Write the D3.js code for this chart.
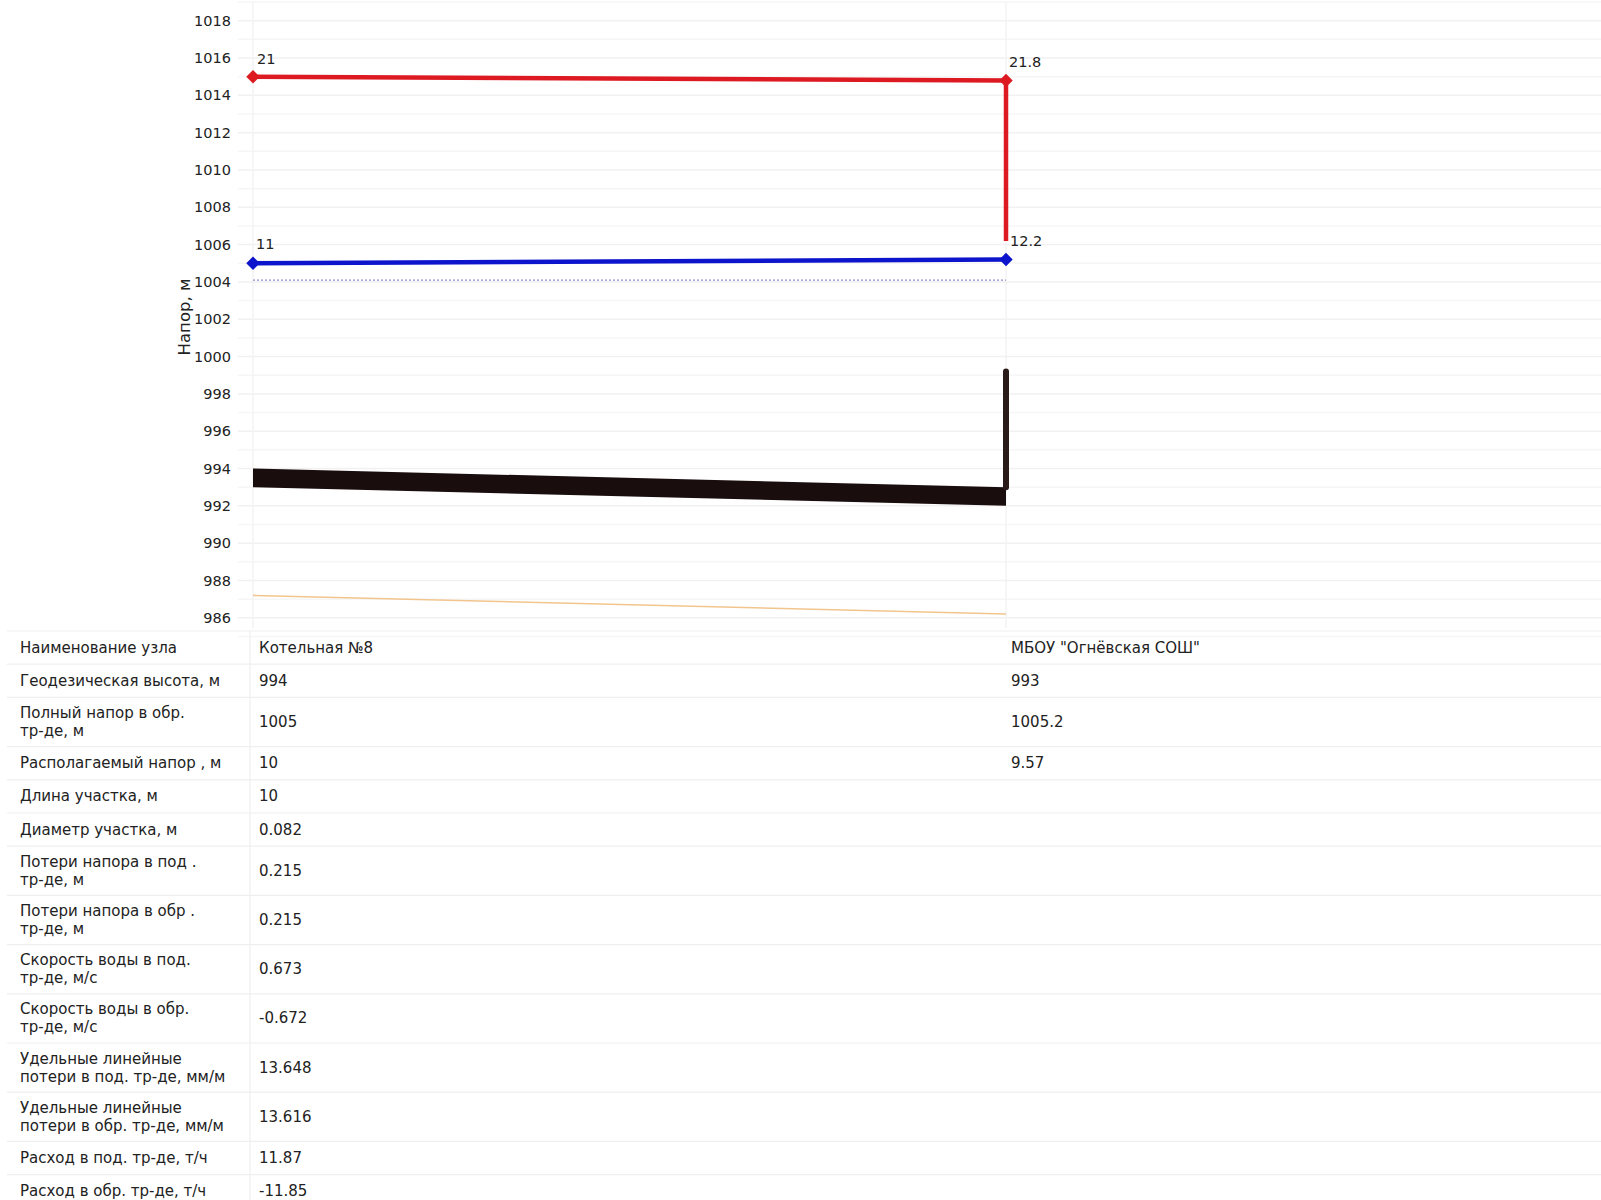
<!DOCTYPE html>
<html>
<head>
<meta charset="utf-8">
<script src="https://cdn.jsdelivr.net/npm/d3@7/dist/d3.min.js"></script>
<style>
  html, body { margin: 0; padding: 0; background: #fff; }
  svg { display: block; }
  text { font-family: "DejaVu Sans", Verdana, sans-serif; fill: #222; }
</style>
</head>
<body>
<svg id="chart" width="1601" height="1200"></svg>
<script>
// ---------- data ----------
const nodeNames = ["Котельная №8", "МБОУ \"Огнёвская СОШ\""];
const geoHeight = [994, 993];             // geodesic height (top of ground band)
const groundBottom = [993, 992];          // bottom of ground band
const supplyHead = [1015, 1014.8];        // red line
const supplyLabels = ["21", "21.8"];
const supplyDropTo = 1006.2;              // red vertical drop at consumer
const returnHead = [1005, 1005.2];        // blue line
const returnLabels = ["11", "12.2"];
const staticHead = [1004.1, 1004.1];      // dotted line
const buildingTop = 999.2;                // black vertical at consumer
const orangeLine = [987.2, 986.2];
const yTicks = [986, 988, 990, 992, 994, 996, 998, 1000, 1002, 1004, 1006, 1008, 1010, 1012, 1014, 1016, 1018];

const rowLabels = [
  ["Наименование узла"],
  ["Геодезическая высота, м"],
  ["Полный напор в обр.", "тр-де, м"],
  ["Располагаемый напор , м"],
  ["Длина участка, м"],
  ["Диаметр участка, м"],
  ["Потери напора в под .", "тр-де, м"],
  ["Потери напора в обр .", "тр-де, м"],
  ["Скорость воды в под.", "тр-де, м/с"],
  ["Скорость воды в обр.", "тр-де, м/с"],
  ["Удельные линейные", "потери в под. тр-де, мм/м"],
  ["Удельные линейные", "потери в обр. тр-де, мм/м"],
  ["Расход в под. тр-де, т/ч"],
  ["Расход в обр. тр-де, т/ч"]
];
const node1Values = ["Котельная №8", "994", "1005", "10", "10", "0.082", "0.215", "0.215", "0.673", "-0.672", "13.648", "13.616", "11.87", "-11.85"];
const node2Values = ["МБОУ \"Огнёвская СОШ\"", "993", "1005.2", "9.57", "", "", "", "", "", "", "", "", "", ""];

// ---------- scales ----------
const svg = d3.select("#chart");
const x = d3.scaleLinear().domain([0, 1]).range([253, 1006]);
const y = d3.scaleLinear().domain([986, 1018]).range([617.8, 20.7]);
const nodeIdx = [0, 1];

// ---------- grid ----------
const gridVals = d3.range(985, 1020, 1);
svg.append("g").selectAll("line").data(gridVals).join("line")
  .attr("x1", 238).attr("x2", 1601)
  .attr("y1", d => y(d)).attr("y2", d => y(d))
  .attr("stroke", d => d % 2 === 0 ? "#f1f1f1" : "#f6f6f6")
  .attr("stroke-width", 1.5);
svg.append("g").selectAll("line").data(nodeIdx).join("line")
  .attr("x1", d => x(d)).attr("x2", d => x(d))
  .attr("y1", 3).attr("y2", 628)
  .attr("stroke", "#f3f3f3").attr("stroke-width", 1.5);

// ---------- y axis ----------
const yAxis = svg.append("g").attr("transform", "translate(233,0)")
  .call(d3.axisLeft(y).tickValues(yTicks).tickSize(0).tickPadding(2).tickFormat(d3.format("d")));
yAxis.select(".domain").remove();
yAxis.selectAll("text").style("font-family", "DejaVu Sans, sans-serif").style("font-size", "14.5px").style("fill", "#222");

svg.append("text")
  .attr("transform", "translate(190,317) rotate(-90)")
  .attr("text-anchor", "middle")
  .style("font-size", "16.5px")
  .text("Напор, м");

const line = d3.line().x(d => x(d[0])).y(d => y(d[1]));

// orange line
svg.append("path")
  .datum(nodeIdx.map(i => [i, orangeLine[i]]))
  .attr("d", line).attr("fill", "none")
  .attr("stroke", "#f2c58e").attr("stroke-width", 1.6);

// ground band
const area = d3.area().x(d => x(d[0])).y0(d => y(d[2])).y1(d => y(d[1]));
svg.append("path")
  .datum(nodeIdx.map(i => [i, geoHeight[i], groundBottom[i]]))
  .attr("d", area).attr("fill", "#1a0d0d");

// building vertical
svg.append("line")
  .attr("x1", x(1)).attr("x2", x(1))
  .attr("y1", y(buildingTop)).attr("y2", y(geoHeight[1]))
  .attr("stroke", "#2a1a1a").attr("stroke-width", 6).attr("stroke-linecap", "round");

// static dotted line
svg.append("path")
  .datum(nodeIdx.map(i => [i, staticHead[i]]))
  .attr("d", line).attr("fill", "none")
  .attr("stroke", "#8a8fd0").attr("stroke-width", 1.2).attr("stroke-dasharray", "2,2");

// red supply line with drop
svg.append("path")
  .datum([[0, supplyHead[0]], [1, supplyHead[1]], [1, supplyDropTo]])
  .attr("d", line).attr("fill", "none")
  .attr("stroke", "#dd1a22").attr("stroke-width", 4.5);

// blue return line
svg.append("path")
  .datum(nodeIdx.map(i => [i, returnHead[i]]))
  .attr("d", line).attr("fill", "none")
  .attr("stroke", "#0c14cc").attr("stroke-width", 4.5);

// markers
const diamond = d3.symbol().type(d3.symbolDiamond2).size(115);
svg.append("g").selectAll("path").data(nodeIdx).join("path")
  .attr("d", diamond).attr("transform", i => `translate(${x(i)},${y(supplyHead[i])})`)
  .attr("fill", "#dd1a22");
svg.append("g").selectAll("path").data(nodeIdx).join("path")
  .attr("d", diamond).attr("transform", i => `translate(${x(i)},${y(returnHead[i])})`)
  .attr("fill", "#0c14cc");

// point labels
const lblOff = [[4, 3], [3, 4]];
svg.append("g").selectAll("text").data(nodeIdx).join("text")
  .attr("x", i => x(i) + lblOff[i][0]).attr("y", i => y(supplyHead[i]) - 13)
  .style("font-size", "14.5px").text(i => supplyLabels[i]);
svg.append("g").selectAll("text").data(nodeIdx).join("text")
  .attr("x", i => x(i) + lblOff[i][1]).attr("y", i => y(returnHead[i]) - 14)
  .style("font-size", "14.5px").text(i => returnLabels[i]);

// ---------- table ----------
const tableTop = 631, singleH = 33.2, doubleH = 49.2;
let acc = tableTop;
const rows = rowLabels.map((lab, i) => {
  const h = lab.length > 1 ? doubleH : singleH;
  const r = { i, lab, top: acc, h };
  acc += h;
  return r;
});
const tg = svg.append("g");
// row separators
tg.selectAll("line.sep").data(rows.map(r => r.top).concat([acc])).join("line")
  .attr("class", "sep")
  .attr("x1", 7).attr("x2", 1601)
  .attr("y1", d => d).attr("y2", d => d)
  .attr("stroke", "#efefef").attr("stroke-width", 1.2);
// column divider
tg.append("line").attr("x1", 250).attr("x2", 250).attr("y1", tableTop).attr("y2", acc)
  .attr("stroke", "#efefef").attr("stroke-width", 1.2);

const fs = "15px";
rows.forEach(r => {
  const cy = r.top + r.h / 2;
  const t = tg.append("text").attr("x", 20).style("font-size", fs);
  if (r.lab.length === 1) {
    t.append("tspan").attr("x", 20).attr("y", cy + 5).text(r.lab[0]);
  } else {
    t.append("tspan").attr("x", 20).attr("y", cy - 4).text(r.lab[0]);
    t.append("tspan").attr("x", 20).attr("y", cy + 14).text(r.lab[1]);
  }
  tg.append("text").attr("x", x(0) + 6).attr("y", cy + 5).style("font-size", fs).text(node1Values[r.i]);
  tg.append("text").attr("x", x(1) + 5).attr("y", cy + 5).style("font-size", fs).text(node2Values[r.i]);
});
</script>
</body>
</html>
